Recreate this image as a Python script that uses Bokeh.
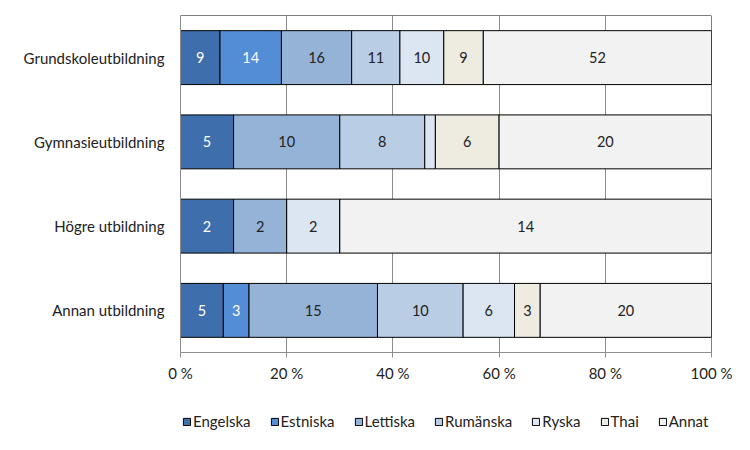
import numpy as np
from bokeh.plotting import figure
from bokeh.layouts import column
from bokeh.models import ColumnDataSource, FactorRange, FixedTicker, Legend, Span, Range1d
from bokeh.core.properties import value
from bokeh.embed import file_html
from bokeh.resources import INLINE

categories = ["Grundskoleutbildning", "Gymnasieutbildning", "Högre utbildning", "Annan utbildning"]
series = ["Engelska", "Estniska", "Lettiska", "Rumänska", "Ryska", "Thai", "Annat"]
engelska = [9, 5, 2, 5]
estniska = [14, 0, 0, 3]
lettiska = [16, 10, 2, 15]
rumanska = [11, 8, 0, 10]
ryska = [10, 1, 2, 6]
thai = [9, 6, 0, 3]
annat = [52, 20, 14, 20]
colors = ["#3E6EAB", "#538DD5", "#95B3D7", "#B9CDE5", "#DCE6F2", "#EEECE1", "#F2F2F2"]
label_colors = ["white", "white", "#222222", "#222222", "#222222", "#222222", "#222222"]
tick_values = [0, 20, 40, 60, 80, 100]
tick_labels = ["0 %", "20 %", "40 %", "60 %", "80 %", "100 %"]

FONT = "Lato"
values = np.array([engelska, estniska, lettiska, rumanska, ryska, thai, annat], dtype=float)
totals = values.sum(axis=0)
pct = values / totals * 100.0

data = {"cat": categories}
for name, row in zip(series, pct):
    data[name] = list(row)
source = ColumnDataSource(data)

y_factors = list(reversed(categories))
p = figure(width=734, height=400, y_range=FactorRange(*y_factors, range_padding=0),
           x_range=Range1d(0, 100), output_backend="svg", toolbar_location=None,
           min_border_left=180, min_border_right=23, min_border_top=15, min_border_bottom=48)
p.outline_line_color = None
p.background_fill_color = "white"

renderers = p.hbar_stack(series, y="cat", height=0.64, source=source, color=colors,
                         line_color="black", line_width=1)

# labels (segments too narrow for a label are left unlabelled, as in the original)
lx, ly, lt, lc = [], [], [], []
cum = np.zeros(len(categories))
for i, name in enumerate(series):
    for j, cat in enumerate(categories):
        if pct[i, j] >= 3:
            lx.append(cum[j] + pct[i, j] / 2)
            ly.append(cat)
            lt.append(str(int(values[i, j])))
            lc.append(label_colors[i])
    cum += pct[i]
lsrc = ColumnDataSource(dict(x=lx, y=ly, t=lt, c=lc))
p.text(x="x", y="y", text="t", text_color="c", source=lsrc, text_align="center",
       text_baseline="middle", text_font=value(FONT), text_font_size="14.5px")

# grid & axes
p.xgrid.ticker = FixedTicker(ticks=tick_values)
p.xgrid.grid_line_color = "#8C8C8C"
p.xgrid.level = "underlay"
p.ygrid.grid_line_color = None

p.xaxis.ticker = FixedTicker(ticks=tick_values)
p.xaxis.major_label_overrides = {v: l for v, l in zip(tick_values, tick_labels)}
p.xaxis.axis_line_color = "#8C8C8C"
p.xaxis.major_tick_line_color = "#8C8C8C"
p.xaxis.major_tick_out = 5
p.xaxis.major_tick_in = 0
p.xaxis.minor_tick_line_color = None
p.xaxis.major_label_text_font = FONT
p.xaxis.major_label_text_font_size = "15px"
p.xaxis.major_label_text_color = "#222222"
p.xaxis.major_label_standoff = 6

p.yaxis.axis_line_color = "#8C8C8C"
p.yaxis.major_tick_line_color = None
p.yaxis.minor_tick_line_color = None
p.yaxis.major_label_text_font = FONT
p.yaxis.major_label_text_font_size = "15px"
p.yaxis.major_label_text_color = "#222222"
p.yaxis.major_label_standoff = 10

p.add_layout(Span(location=100, dimension="height", line_color="black", line_width=1))
p.add_layout(Span(location=4, dimension="width", line_color="black", line_width=1))

# legend in its own strip below the chart (proxy renderers hold no visible data)
lf = figure(width=734, height=40, x_range=Range1d(0, 1), y_range=Range1d(0, 1),
            output_backend="svg", toolbar_location=None,
            x_axis_location=None, y_axis_location=None,
            min_border_left=0, min_border_right=0, min_border_top=0, min_border_bottom=0)
lf.grid.visible = False
lf.outline_line_color = None
items = []
for name, c in zip(series, colors):
    r = lf.hbar(y=[np.nan], left=[np.nan], right=[np.nan], height=0.5,
                fill_color=c, line_color="black", line_width=1)
    items.append((name, [r]))
legend = Legend(items=items, orientation="horizontal", location=(2, 10))
legend.border_line_color = None
legend.background_fill_alpha = 0
legend.label_text_font = FONT
legend.label_text_font_size = "15px"
legend.label_text_color = "#222222"
legend.glyph_width = 9
legend.glyph_height = 9
legend.label_standoff = 2
legend.spacing = 19
legend.padding = 0
legend.margin = 0
lf.add_layout(legend, "center")

open("out.html", "w").write(file_html(column(p, lf, spacing=0), INLINE))
